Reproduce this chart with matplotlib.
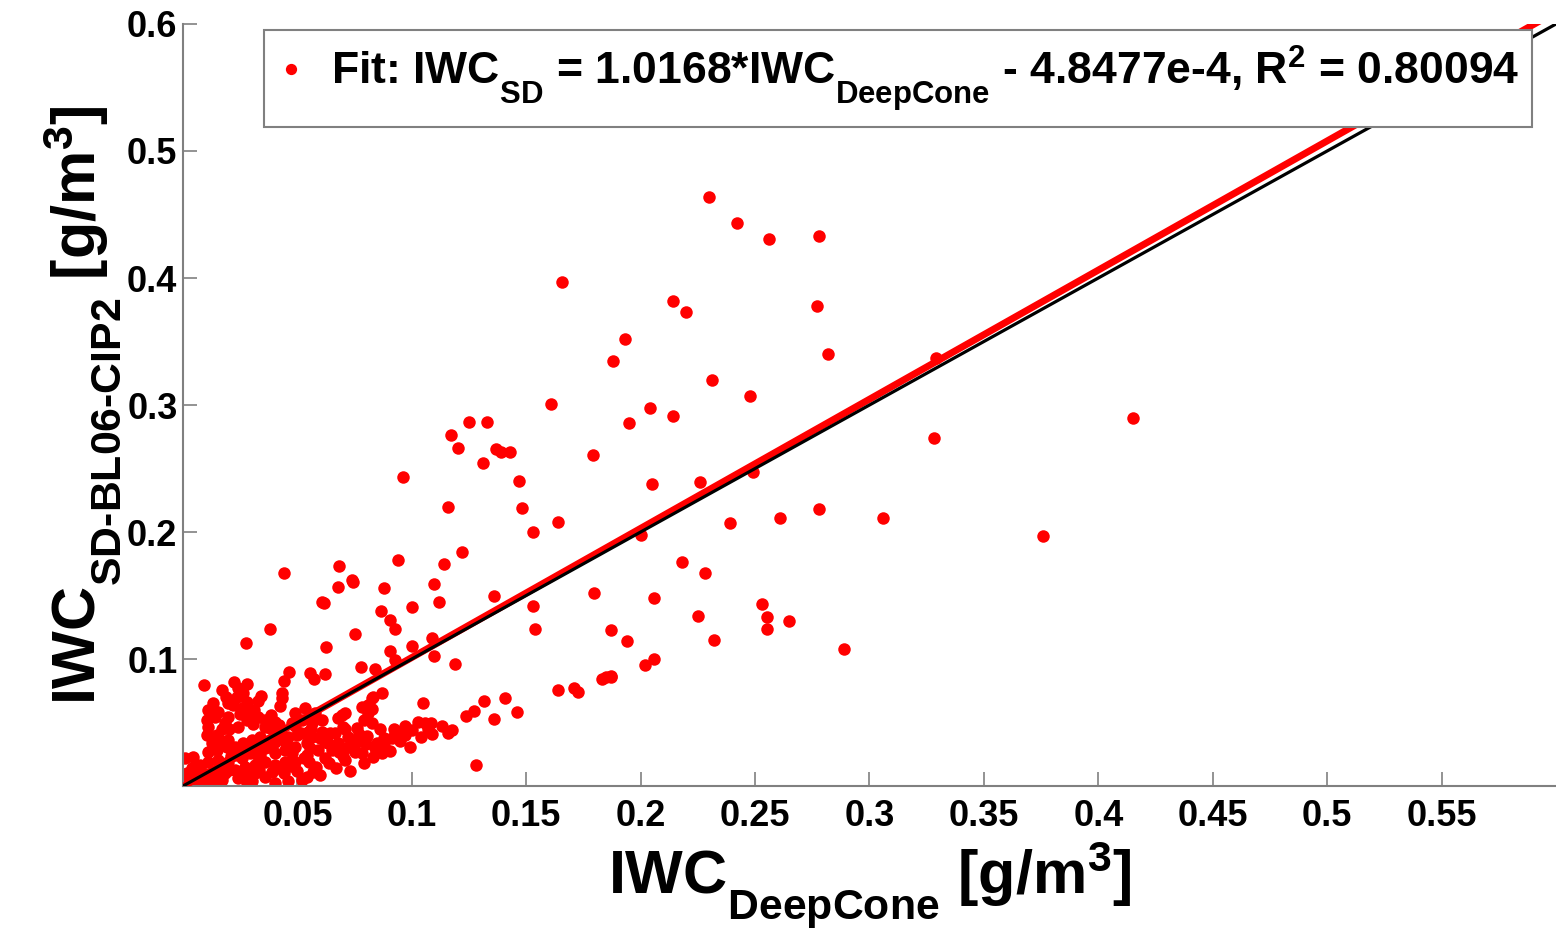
import numpy as np
import matplotlib
matplotlib.use("Agg")
import matplotlib.pyplot as plt
import matplotlib._mathtext as mt

plt.rcParams["font.family"] = ["Liberation Sans", "DejaVu Sans"]
plt.rcParams["font.weight"] = "bold"
plt.rcParams["axes.labelweight"] = "bold"
plt.rcParams["mathtext.fontset"] = "custom"
plt.rcParams["mathtext.rm"] = "Liberation Sans:bold"
plt.rcParams["mathtext.bf"] = "Liberation Sans:bold"
plt.rcParams["mathtext.it"] = "Liberation Sans:bold"
plt.rcParams["mathtext.default"] = "bf"
# matlab drops subscripts lower than mathtext does
mt.FontConstantsBase.sub1 = 0.8

# IWC pairs (DeepCone, SD-BL06-CIP2) in g/m^3
pts_upper = [(0.230, 0.464), (0.242, 0.443), (0.256, 0.431), (0.278, 0.433), (0.1655, 0.397),
             (0.214, 0.382), (0.220, 0.373), (0.277, 0.378), (0.193, 0.352), (0.188, 0.335),
             (0.282, 0.340), (0.329, 0.337), (0.231, 0.320), (0.248, 0.307), (0.161, 0.301),
             (0.204, 0.298), (0.214, 0.291), (0.195, 0.286), (0.125, 0.287), (0.133, 0.287),
             (0.117, 0.276), (0.120, 0.266), (0.137, 0.265), (0.139, 0.263), (0.143, 0.263),
             (0.131, 0.254), (0.328, 0.274), (0.415, 0.290), (0.096, 0.243), (0.147, 0.240),
             (0.179, 0.261), (0.205, 0.238), (0.226, 0.239), (0.249, 0.247), (0.116, 0.220),
             (0.148, 0.219), (0.164, 0.208), (0.153, 0.200), (0.200, 0.198), (0.239, 0.207),
             (0.261, 0.211), (0.278, 0.218), (0.306, 0.211), (0.376, 0.197), (0.122, 0.184),
             (0.218, 0.176), (0.228, 0.168), (0.094, 0.178), (0.114, 0.175), (0.068, 0.173),
             (0.044, 0.168), (0.074, 0.162)]
pts_mid = [(0.206, 0.148), (0.187, 0.123), (0.225, 0.134), (0.194, 0.114), (0.232, 0.115),
           (0.253, 0.143), (0.255, 0.133), (0.255, 0.124), (0.265, 0.130), (0.289, 0.108),
           (0.206, 0.100), (0.202, 0.095), (0.187, 0.086), (0.183, 0.084),
           (0.0878, 0.156), (0.1096, 0.159), (0.112, 0.145), (0.100, 0.141), (0.0865, 0.138),
           (0.0904, 0.131), (0.0926, 0.124), (0.136, 0.150), (0.153, 0.142), (0.154, 0.124),
           (0.1795, 0.152), (0.1087, 0.1165), (0.100, 0.110), (0.0904, 0.106), (0.0926, 0.099),
           (0.1096, 0.102), (0.1188, 0.096), (0.0838, 0.092), (0.0869, 0.073), (0.083, 0.070),
           (0.0825, 0.061), (0.105, 0.065), (0.1314, 0.067), (0.1406, 0.069), (0.146, 0.058),
           (0.136, 0.053), (0.127, 0.059), (0.1236, 0.055), (0.164, 0.0756), (0.1707, 0.077),
           (0.1725, 0.074), (0.187, 0.0866), (0.1847, 0.086), (0.1083, 0.0496), (0.1057, 0.0496),
           (0.1026, 0.0504), (0.104, 0.0386), (0.109, 0.041), (0.100, 0.044), (0.116, 0.0417),
           (0.1175, 0.044), (0.092, 0.045), (0.094, 0.0425), (0.0948, 0.0354), (0.0913, 0.0378),
           (0.0847, 0.034), (0.0878, 0.033), (0.0904, 0.0276), (0.0869, 0.026), (0.083, 0.023),
           (0.128, 0.0165)]
pts_dense = [(0.0677, 0.157), (0.0742, 0.161), (0.0607, 0.145), (0.0615, 0.144), (0.038, 0.124),
             (0.0275, 0.1126), (0.0751, 0.120), (0.0624, 0.1094), (0.0777, 0.0937), (0.0463, 0.0898),
             (0.0555, 0.089), (0.0572, 0.0843), (0.062, 0.088), (0.0441, 0.0827), (0.0092, 0.0795),
             (0.0223, 0.0819), (0.017, 0.0756), (0.024, 0.077), (0.0262, 0.0732), (0.0432, 0.0732),
             (0.0236, 0.070), (0.0328, 0.0669), (0.0432, 0.0693), (0.0197, 0.0654), (0.028, 0.066),
             (0.0424, 0.063), (0.0109, 0.0598), (0.0153, 0.0583), (0.0258, 0.0614), (0.0293, 0.0575),
             (0.0384, 0.0559), (0.0197, 0.0543), (0.014, 0.0543), (0.028, 0.052), (0.0306, 0.0488),
             (0.0183, 0.0496), (0.0109, 0.0465), (0.017, 0.0449), (0.024, 0.0465), (0.0105, 0.0402),
             (0.0162, 0.0362), (0.0197, 0.0362), (0.0127, 0.0339), (0.038, 0.0457), (0.042, 0.048),
             (0.0459, 0.0386), (0.0402, 0.0346), (0.0515, 0.0417), (0.0563, 0.0496), (0.0607, 0.0425),
             (0.0642, 0.0417), (0.0555, 0.0299), (0.0694, 0.0559), (0.0707, 0.0575), (0.0677, 0.0535),
             (0.079, 0.052), (0.0808, 0.0638), (0.0803, 0.0394), (0.0825, 0.0693), (0.0751, 0.0268),
             (0.0782, 0.026), (0.0707, 0.0205), (0.0677, 0.0339), (0.0633, 0.0339), (0.059, 0.0283),
             (0.0541, 0.0244), (0.0489, 0.0307), (0.0445, 0.0283), (0.0402, 0.026), (0.0358, 0.0299),
             (0.0323, 0.0307), (0.0336, 0.0244), (0.0293, 0.026), (0.0258, 0.022), (0.0227, 0.0244),
             (0.0197, 0.0189), (0.0153, 0.0205), (0.0109, 0.0189), (0.0074, 0.0165), (0.0039, 0.0142),
             (0.001, 0.022), (0.0044, 0.0228), (0.0017, 0.0102), (0.0052, 0.0087), (0.001, 0.0047),
             (0.0096, 0.0071), (0.014, 0.011), (0.0183, 0.0102), (0.0227, 0.0126), (0.0271, 0.015),
             (0.0314, 0.0165), (0.0358, 0.0189), (0.0402, 0.0165), (0.0445, 0.0189), (0.0489, 0.0189),
             (0.052, 0.0047), (0.0127, 0.0047), (0.0066, 0.0031), (0.017, 0.0047), (0.0314, 0.0102),
             (0.0389, 0.011), (0.0476, 0.026), (0.0563, 0.0386), (0.072, 0.0386), (0.076, 0.0457),
             (0.0825, 0.0496), (0.0699, 0.0465), (0.0664, 0.0417), (0.0476, 0.0496), (0.052, 0.052),
             (0.0489, 0.0575), (0.0533, 0.0614), (0.0576, 0.0575), (0.0607, 0.052), (0.0546, 0.0425),
             (0.0402, 0.0504), (0.0358, 0.0465), (0.0336, 0.0386), (0.0301, 0.0362), (0.0262, 0.0339),
             (0.0227, 0.0307), (0.0192, 0.0307), (0.0148, 0.0283), (0.0109, 0.0268), (0.0105, 0.052),
             (0.0328, 0.0543), (0.0808, 0.0575), (0.0782, 0.0622), (0.002, 0.001), (0.006, 0.002),
             (0.009, 0.004), (0.024, 0.006), (0.030, 0.004), (0.036, 0.007), (0.044, 0.010),
             (0.050, 0.012), (0.058, 0.015), (0.064, 0.018), (0.070, 0.024), (0.060, 0.009),
             (0.046, 0.004), (0.055, 0.019), (0.065, 0.028), (0.073, 0.031), (0.080, 0.033)]
pts_fill = [(0.005, 0.006), (0.012, 0.008), (0.020, 0.013), (0.027, 0.009), (0.033, 0.013),
            (0.041, 0.014), (0.047, 0.016), (0.053, 0.022), (0.057, 0.011), (0.062, 0.022),
            (0.067, 0.014), (0.071, 0.030), (0.076, 0.035), (0.068, 0.027), (0.084, 0.030),
            (0.088, 0.038), (0.097, 0.040), (0.099, 0.031), (0.079, 0.018), (0.062, 0.035),
            (0.056, 0.045), (0.050, 0.040), (0.045, 0.034), (0.038, 0.031), (0.032, 0.025),
            (0.026, 0.028), (0.021, 0.024), (0.016, 0.016), (0.008, 0.012), (0.003, 0.004),
            (0.015, 0.040), (0.020, 0.045), (0.025, 0.057), (0.031, 0.060), (0.036, 0.052),
            (0.013, 0.065), (0.022, 0.064), (0.034, 0.071), (0.028, 0.080), (0.019, 0.070),
            (0.043, 0.040), (0.049, 0.047), (0.054, 0.034), (0.060, 0.038), (0.071, 0.045),
            (0.077, 0.041), (0.086, 0.045), (0.097, 0.047), (0.107, 0.045), (0.113, 0.047),
            (0.016, 0.001), (0.028, 0.002), (0.040, 0.002), (0.054, 0.007), (0.073, 0.012)]

slope, intercept = 1.0168, -4.8477e-4
xticks = [0.05, 0.1, 0.15, 0.2, 0.25, 0.3, 0.35, 0.4, 0.45, 0.5, 0.55]
yticks = [0.1, 0.2, 0.3, 0.4, 0.5, 0.6]

pts = np.array(pts_upper + pts_mid + pts_dense + pts_fill)
x, y = pts[:, 0], pts[:, 1]

fig = plt.figure(figsize=(15.56, 9.41), dpi=100)
ax = fig.add_axes([0.1176, 0.1647, 0.8824, 0.8098])

grey = "#808080"
lab = (r"Fit: IWC$_{SD}$ = 1.0168*IWC$_{DeepCone}$ - 4.8477e-4, R$^{2}$ = 0.80094")
ax.plot(x, y, "o", color="red", ms=9, mec="none", label=lab, zorder=2)
xl = np.array([0, 0.6])
ax.plot(xl, slope*xl + intercept, color="red", lw=5, zorder=3)
ax.plot(xl, xl, color="black", lw=2.3, zorder=4)

ax.set_xlim(0, 0.6); ax.set_ylim(0, 0.6)
ax.set_xticks(xticks); ax.set_xticklabels([f"{t:g}" for t in xticks])
ax.set_yticks(yticks); ax.set_yticklabels([f"{t:g}" for t in yticks])
ax.tick_params(direction="in", length=10, width=1.2, color=grey, labelsize=26)
ax.tick_params(axis="x", pad=9)
ax.tick_params(axis="y", pad=4)
for s in ("top", "right"):
    ax.spines[s].set_visible(False)
for s in ("left", "bottom"):
    ax.spines[s].set_color(grey); ax.spines[s].set_linewidth(1.5)

ax.set_xlabel(r"IWC$_{DeepCone}$ [g/m$^{3}$]", fontsize=44, fontweight="bold", labelpad=4)
ax.set_ylabel("IWC$_{SD\u2010BL06\u2010CIP2}$ [g/m$^{3}$]", fontsize=44, fontweight="bold", labelpad=3)

leg = ax.legend(loc="upper left", bbox_to_anchor=(0.059, 0.992), borderaxespad=0,
                fontsize=32, fancybox=False, framealpha=1, edgecolor=grey,
                handlelength=0.6, handletextpad=0.6, borderpad=0.3, markerscale=0.9)
leg.get_frame().set_linewidth(1.5)
leg.set_zorder(10)

fig.savefig("out.png", dpi=100)
